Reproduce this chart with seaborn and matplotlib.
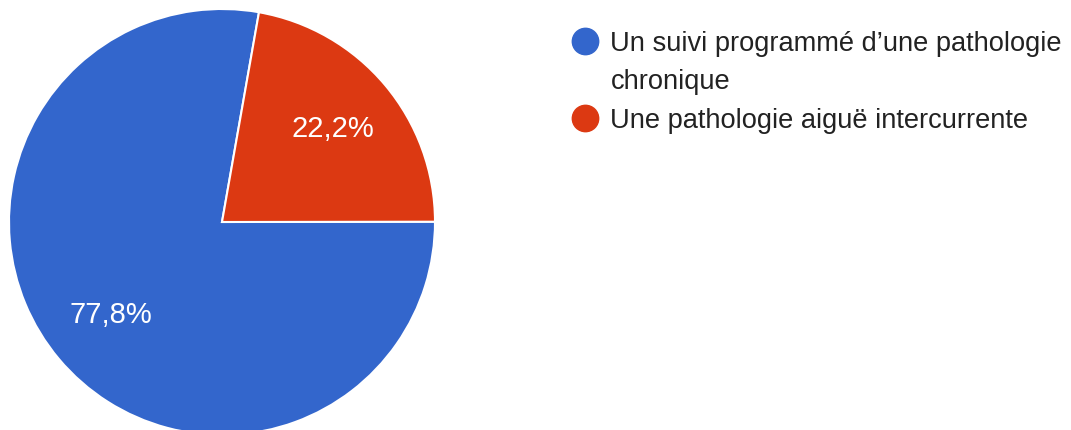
import numpy as np
import matplotlib
matplotlib.use("Agg")
import matplotlib.pyplot as plt
import seaborn as sns
from matplotlib.lines import Line2D

labels = ["Un suivi programmé d’une pathologie\nchronique", "Une pathologie aiguë intercurrente"]
values = [77.8, 22.2]
pct_labels = ["77,8%", "22,2%"]
colors = ["#3366cc", "#dc3912"]

sns.set_theme(style="white")
plt.rcParams['font.family'] = ['Liberation Sans', 'DejaVu Sans']


def main():
    fig = plt.figure(figsize=(10.71, 4.30), dpi=100)
    ax = fig.add_axes([9 / 1071, -5 / 430, 426 / 1071, 426 / 430])
    palette = sns.color_palette(colors)
    wedges, _ = ax.pie(values, colors=palette, startangle=80, counterclock=True,
                       wedgeprops=dict(edgecolor="white", linewidth=1.5))
    for w, txt in zip(wedges, pct_labels):
        ang = np.deg2rad((w.theta1 + w.theta2) / 2)
        ax.text(0.68 * np.cos(ang), 0.68 * np.sin(ang), txt, ha="center", va="center",
                color="white", fontsize=21)
    ax.set_xlim(-1, 1)
    ax.set_ylim(-1, 1)
    ax.set_aspect("equal")
    ax.axis("off")

    # legend: second line of the first label kept as its own row so the dot sits on line 1
    first, second = labels[0].split("\n")
    handles = [Line2D([], [], marker="o", linestyle="", color=palette[0], markersize=19),
               Line2D([], [], linestyle="", marker=""),
               Line2D([], [], marker="o", linestyle="", color=palette[1], markersize=19)]
    leg = fig.legend(handles, [first, second, labels[1]], loc="upper left",
                     bbox_to_anchor=(571 / 1071, 1 - 31 / 430), frameon=False,
                     fontsize=19.6, handlelength=1.0, handletextpad=0.45,
                     labelspacing=0.45, borderaxespad=0, borderpad=0)
    for t in leg.get_texts():
        t.set_color("#222222")

    fig.savefig("out.png", dpi=100)


if __name__ == "__main__":
    main()
